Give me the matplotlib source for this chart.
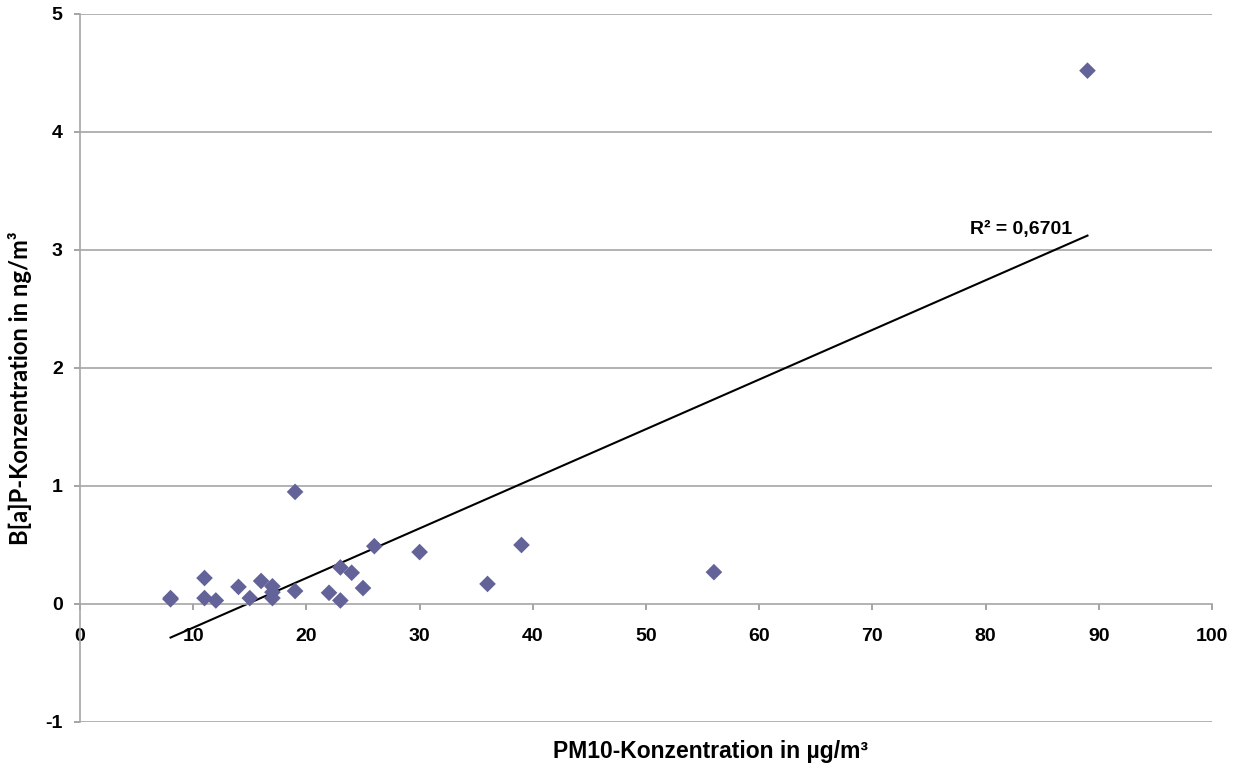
import matplotlib
matplotlib.use('Agg')
import matplotlib.pyplot as plt
import numpy as np

plt.rcParams['font.family'] = ['Liberation Sans', 'DejaVu Sans']
plt.rcParams['axes.unicode_minus'] = False

# PM10 (µg/m³) vs. B[a]P (ng/m³)
pm10 = [8, 8, 11, 11, 12, 14, 15, 16, 17, 17, 17, 19, 19, 22, 23, 23, 24, 25, 26, 30, 36, 39, 56, 89]
bap = [0.04, 0.05, 0.22, 0.05, 0.03, 0.145, 0.05, 0.195, 0.15, 0.1, 0.05, 0.95, 0.11,
       0.095, 0.31, 0.03, 0.265, 0.135, 0.49, 0.44, 0.17, 0.5, 0.27, 4.52]
r2_label = 'R² = 0,6701'

W, H = 1245, 769
x = np.array(pm10)
y = np.array(bap)
slope, intercept = np.polyfit(x, y, 1)

fig = plt.figure(figsize=(W / 100, H / 100), dpi=100)
ax = fig.add_axes([80 / W, 1 - 722 / H, (1212 - 80) / W, (722 - 14) / H])

ax.set_xlim(0, 100)
ax.set_ylim(-1, 5)
ax.set_xticks(range(0, 101, 10))
ax.set_yticks(range(-1, 6))

grid_col = '#a6a6a6'
for v in range(-1, 6):
    if v != 0:
        ax.axhline(v, color=grid_col, lw=1.2, zorder=0)

ax.spines['top'].set_visible(False)
ax.spines['right'].set_visible(False)
ax.spines['bottom'].set_position(('data', 0))
for side in ('bottom', 'left'):
    ax.spines[side].set_color(grid_col)
    ax.spines[side].set_linewidth(1.2)
ax.tick_params(axis='both', colors='#8c8c8c', length=4.5, width=1.1,
               labelcolor='black', labelsize=14)
ax.tick_params(axis='x', pad=13)
ax.tick_params(axis='y', pad=8)
for lab in ax.get_xticklabels() + ax.get_yticklabels():
    lab.set_fontweight('bold')

ax.scatter(x, y, marker='D', s=72, color='#636399', edgecolors='none', zorder=3)

xf = np.array([x.min(), x.max()])
ax.plot(xf, slope * xf + intercept, color='black', lw=1.5, zorder=2)

ax.text(87.6, 3.17, r2_label, fontsize=14, fontweight='bold', ha='right', va='center')

fig.text(553 / W, 1 - 758 / H, 'PM10-Konzentration in µg/m³', fontsize=16.5,
         fontweight='bold', ha='left', va='baseline')
ylab = fig.text(20 / W, 1 - 388 / H, 'B[a]P-Konzentration in ng/m³', fontsize=14,
                fontweight='bold', ha='center', va='center', rotation=90,
                family=['Lato', 'DejaVu Sans'])

# scale the y-axis title so its length matches the reference (~317 px)
fig.canvas.draw()
ext = ylab.get_window_extent()
ylab.set_fontsize(14 * 317 / ext.height)

fig.savefig('out.png', dpi=100)
